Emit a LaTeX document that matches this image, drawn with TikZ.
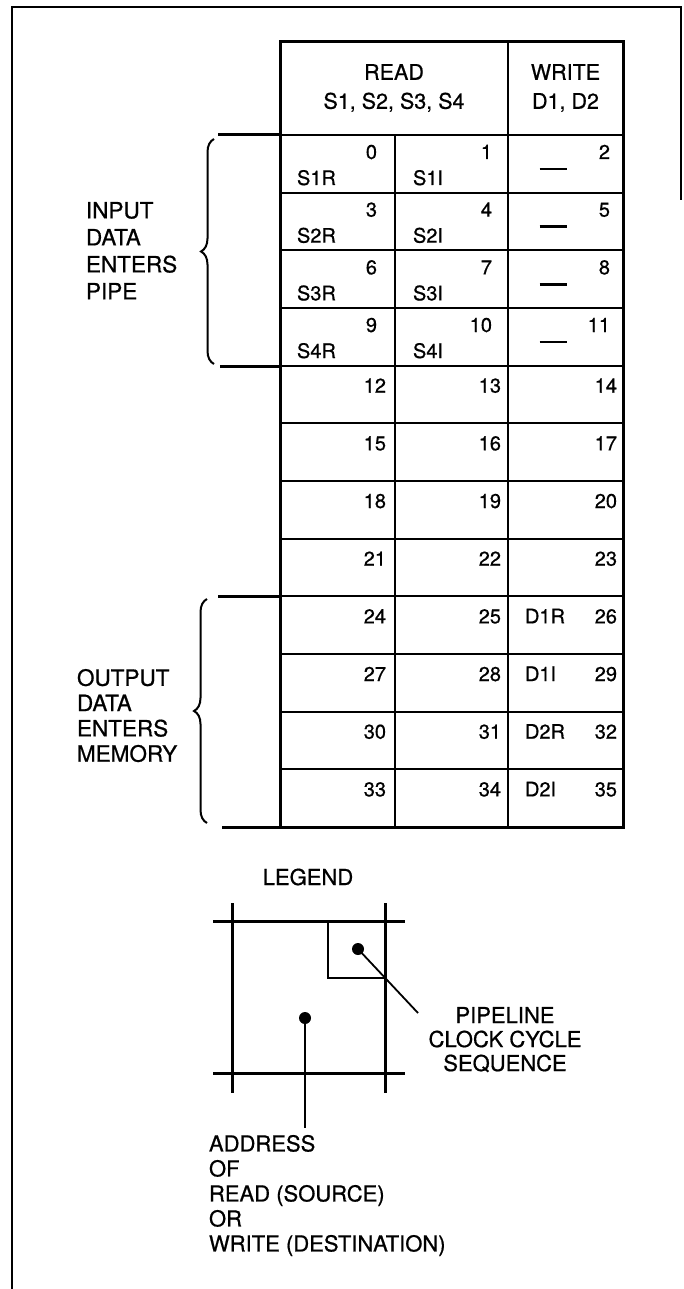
\documentclass[tikz,border=0pt]{standalone}
\usepackage{fontspec}
\setmainfont{TeX Gyre Heros}[FakeBold=0.7]
\usetikzlibrary{positioning,calc,decorations.pathreplacing}

\begin{document}
\begin{tikzpicture}[
  x=1pt, y=-1pt,
  every node/.style={inner sep=0pt, outer sep=0pt, text=black},
  framebox/.style={line width=2pt},
  gridthin/.style={line width=1.8pt},
  gridthick/.style={line width=3pt},
  legline/.style={line width=3pt},
  leader/.style={line width=1.8pt},
  cellnum/.style={font=\fontsize{20}{24}\selectfont, anchor=base east},
  celltag/.style={font=\fontsize{20}{24}\selectfont, anchor=base west},
  hdrtext/.style={font=\fontsize{21.5}{29}\selectfont, align=center},
  sidelabel/.style={font=\fontsize{22.5}{27}\selectfont, align=left, anchor=north west},
  dotmark/.style={circle, fill=black, minimum size=12pt},
  bracemark/.style={decorate, decoration={brace, amplitude=13pt}, line width=2pt},
]
\useasboundingbox (0,0) rectangle (684,1289);

% ── Page frame ──
\draw[framebox] (681,200) -- (681,7) -- (12,7) -- (12,1289);

% ── Table grid ──
\foreach \r in {1,...,11}
  \draw[gridthin] (280,135+\r*57.67) -- (623,135+\r*57.67);
\draw[gridthin] (280,135) -- (623,135);
\draw[gridthin] (395,135) -- (395,827);
\draw[gridthin] (508,42) -- (508,827);
\draw[gridthick] (280,42) rectangle (623,827);

% ── Header ──
\node[hdrtext] (hdrRead) at (394,88) {READ\\S1, S2, S3, S4};
\node[hdrtext] (hdrWrite) at (565.5,88) {WRITE\\D1, D2};

% ── Input rows (sources enter) ──
\foreach \r/\s in {0/1,1/2,2/3,3/4} {
  \pgfmathsetmacro\yt{135+\r*57.67}
  \pgfmathtruncatemacro\na{3*\r}
  \pgfmathtruncatemacro\nb{3*\r+1}
  \pgfmathtruncatemacro\nc{3*\r+2}
  \node[cellnum] (n\na) at (377,\yt+24) {\na};
  \node[cellnum] (n\nb) at (492,\yt+24) {\nb};
  \node[cellnum] (n\nc) at (610,\yt+24) {\nc};
  \node[celltag] (tagR\s) at (297,\yt+50) {S\s R};
  \node[celltag] (tagI\s) at (413,\yt+50) {S\s I};
  \node (dash\s) at (553,\yt+34) {\rule{27pt}{2.5pt}};
}

% ── Remaining rows ──
\foreach \r in {4,...,11} {
  \pgfmathsetmacro\yt{135+\r*57.67}
  \pgfmathtruncatemacro\na{3*\r}
  \pgfmathtruncatemacro\nb{3*\r+1}
  \pgfmathtruncatemacro\nc{3*\r+2}
  \node[cellnum] (n\na) at (386,\yt+27) {\na};
  \node[cellnum] (n\nb) at (501,\yt+27) {\nb};
  \node[cellnum] (n\nc) at (617,\yt+27) {\nc};
}
\foreach \r/\d in {8/D1R,9/D1I,10/D2R,11/D2I}
  \node[celltag] (tag\d) at (525,135+\r*57.67+27) {\d};

% ── Input group ──
\draw[gridthick] (218,135) -- (280,135);
\draw[gridthick] (220,366) -- (280,366);
\draw[bracemark] (214,364) -- (214,139);
\node[sidelabel] (lblIn) at (86,202) {INPUT\\DATA\\ENTERS\\PIPE};

% ── Output group ──
\draw[gridthick] (218,596) -- (280,596);
\draw[gridthick] (222,827) -- (280,827);
\draw[bracemark] (207,823) -- (207,599);
\node[sidelabel, font=\fontsize{22.5}{25.3}\selectfont] (lblOut) at (77,669)
      {OUTPUT\\DATA\\ENTERS\\MEMORY};

% ── Legend ──
\node[font=\fontsize{22}{26}\selectfont] (legTitle) at (308,877) {LEGEND};
\draw[legline] (213,921) -- (405,921);
\draw[legline] (213,1073) -- (405,1073);
\draw[legline] (232,903) -- (232,1093);
\draw[legline] (385,903) -- (385,1093);
\draw[line width=1.5pt] (328,921) -- (328,978) -- (385,978);
\node[dotmark] (dotClk) at (358,949) {};
\node[dotmark] (dotAddr) at (305,1018) {};
\coordinate (clkEnd) at (418,1013);
\coordinate (addrEnd) at (305,1128);
\draw[leader] (dotClk.center) -- (clkEnd);
\draw[leader] (dotAddr.center) -- (addrEnd);
\node[font=\fontsize{22}{24}\selectfont, align=center, anchor=north]
      (legClk) at (505,1007) {PIPELINE\\CLOCK CYCLE\\SEQUENCE};
\node[sidelabel, font=\fontsize{22}{25}\selectfont] (legAddr) at (209,1135)
      {ADDRESS\\OF\\READ (SOURCE)\\OR\\WRITE (DESTINATION)};

\end{tikzpicture}
\end{document}
